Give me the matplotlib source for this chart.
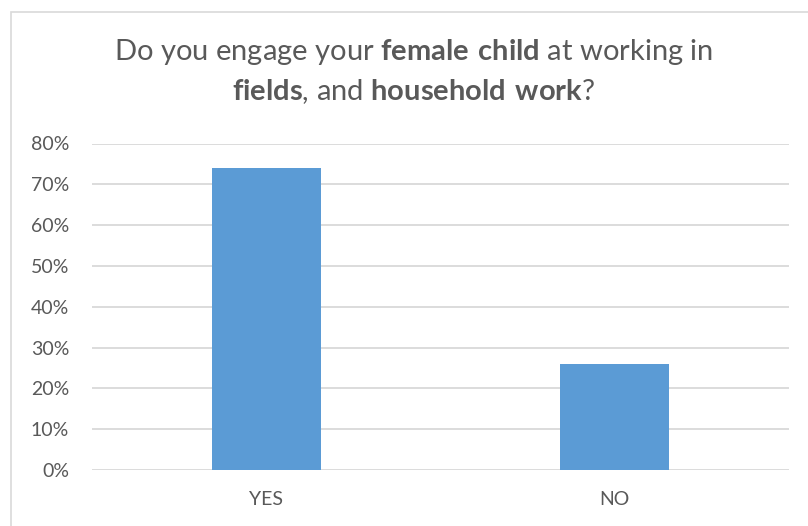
import matplotlib.pyplot as plt
from matplotlib.patches import Rectangle
from matplotlib.ticker import PercentFormatter

# Survey answers
categories = ["YES", "NO"]
shares = [0.74, 0.26]
y_ticks = [0.0, 0.1, 0.2, 0.3, 0.4, 0.5, 0.6, 0.7, 0.8]

plt.rcParams["font.family"] = "Lato"
plt.rcParams["mathtext.fontset"] = "custom"
plt.rcParams["mathtext.rm"] = "Lato"
plt.rcParams["mathtext.bf"] = "Lato:bold"

text_col = "#595959"
grid_col = "#D9D9D9"
bar_col = "#5B9BD5"

W, H = 808, 526
fig = plt.figure(figsize=(W / 100, H / 100), dpi=100)

# chart frame
fig.patches.append(Rectangle((11 / W, -0.05), 1.0, (H - 12) / H + 0.05,
                             transform=fig.transFigure, fill=False,
                             edgecolor=grid_col, linewidth=1.2))

ax = fig.add_axes([92 / W, (H - 470) / H, (789 - 92) / W, (470 - 143.5) / H])

x = range(len(categories))
ax.bar(x, shares, width=0.313, color=bar_col, zorder=3)

ax.set_xlim(-0.5, 1.5)
ax.set_ylim(0, 0.8)
ax.set_yticks(y_ticks)
ax.yaxis.set_major_formatter(PercentFormatter(1.0, decimals=0))
ax.set_xticks(list(x))
ax.set_xticklabels(categories)
ax.grid(axis="y", color=grid_col, linewidth=1.3, zorder=0)
for s in ax.spines.values():
    s.set_visible(False)
ax.tick_params(axis="both", length=0, colors=text_col, labelsize=14)
ax.tick_params(axis="y", pad=16.5)
ax.tick_params(axis="x", pad=15)

# title with bold words
fig.text(414 / W, 1 - 52 / H,
         r"Do you engage your $\bf{female\ child}$ at working in",
         ha="center", va="center", fontsize=21, color=text_col)
fig.text(414 / W, 1 - 92 / H,
         r"$\bf{fields}$, and $\bf{household\ work}$?",
         ha="center", va="center", fontsize=21, color=text_col)

fig.savefig("out.png", dpi=100)
